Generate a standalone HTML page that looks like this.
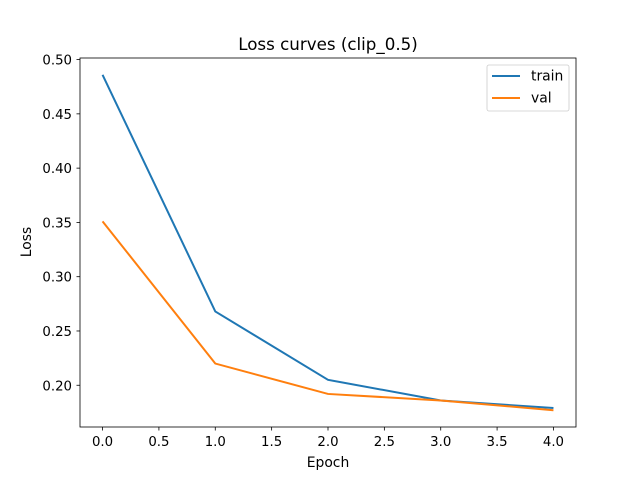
<!DOCTYPE html>
<html><head><style>
body{margin:0;background:#fff;}
svg text{font-family:"DejaVu Sans","Liberation Sans",sans-serif;fill:#000;}
</style></head><body>
<svg id="chart" width="640" height="480" xmlns="http://www.w3.org/2000/svg">
<rect width="640" height="480" fill="#fff"/>
<text x="328" y="50" font-size="16.7" text-anchor="middle">Loss curves (clip_0.5)</text>
<g id="plot"></g>
<rect x="80" y="58" width="496" height="369" fill="none" stroke="#000" stroke-width="0.8"/>
<text x="328" y="467" font-size="13.9" text-anchor="middle">Epoch</text>
<text x="31" y="242" font-size="13.9" text-anchor="middle" transform="rotate(-90 31 242)">Loss</text>
<g>
<rect x="487" y="65" width="82" height="46" rx="2" fill="#fff" stroke="#ccc" stroke-width="0.8"/>
<line x1="492" y1="76" x2="520" y2="76" stroke="#1f77b4" stroke-width="2"/>
<text x="531" y="80.5" font-size="13.9">train</text>
<line x1="492" y1="98" x2="520" y2="98" stroke="#ff7f0e" stroke-width="2"/>
<text x="531" y="102.5" font-size="13.9">val</text>
</g>
</svg>
<script>
const epochs=[0,1,2,3,4];
const trainLoss=[0.486,0.268,0.205,0.186,0.179];
const valLoss=[0.351,0.220,0.192,0.186,0.177];
const xTicks=[0,0.5,1,1.5,2,2.5,3,3.5,4];
const xTickLabels=["0.0","0.5","1.0","1.5","2.0","2.5","3.0","3.5","4.0"];
const yTicks=[0.20,0.25,0.30,0.35,0.40,0.45,0.50];
const yTickLabels=["0.20","0.25","0.30","0.35","0.40","0.45","0.50"];
const NS="http://www.w3.org/2000/svg";
const L=80,R=576,T=58,B=427;
const all=trainLoss.concat(valLoss);
const mn=Math.min(...all),mx=Math.max(...all),pad=(mx-mn)*0.05;
const y0=mn-pad,y1=mx+pad;
const xmn=Math.min(...epochs),xmx=Math.max(...epochs),xp=(xmx-xmn)*0.05;
const sx=v=>L+(v-(xmn-xp))/((xmx+xp)-(xmn-xp))*(R-L);
const sy=v=>B-(v-y0)/(y1-y0)*(B-T);
const g=document.getElementById('plot');
function mk(t,a){const e=document.createElementNS(NS,t);for(const k in a)e.setAttribute(k,a[k]);g.appendChild(e);return e;}
xTicks.forEach((v,i)=>{
 const l=mk('line',{x1:sx(v),x2:sx(v),y1:B,y2:B+3.5,stroke:'#000','stroke-width':0.8});
 
 
 const t=mk('text',{x:sx(v),y:B+19,'font-size':13.3,'text-anchor':'middle'});t.textContent=xTickLabels[i];
 
 
});
yTicks.forEach((v,i)=>{
 const l=mk('line',{x1:L-3.5,x2:L,y1:sy(v),y2:sy(v),stroke:'#000','stroke-width':0.8});
 
 
 const t=mk('text',{x:L-8,y:sy(v)+5,'font-size':13.3,'text-anchor':'end'});t.textContent=yTickLabels[i];
 
 
});
function line(vals,color,name){
 const p=mk('polyline',{points:vals.map((v,i)=>sx(epochs[i])+','+sy(v)).join(' '),fill:'none',stroke:color,'stroke-width':2});
 
 
}
line(trainLoss,'#1f77b4','train-line');
line(valLoss,'#ff7f0e','val-line');
</script>
</body></html>
